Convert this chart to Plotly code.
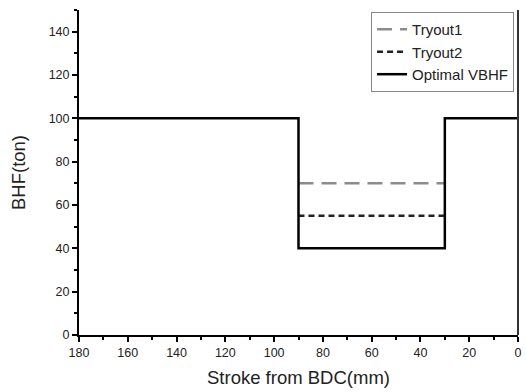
import plotly.graph_objects as go

stroke_tryout = [90, 30]
tryout1 = [70, 70]
tryout2 = [55, 55]
stroke_opt = [180, 90, 90, 30, 30, 0]
optimal = [100, 100, 40, 40, 100, 100]

fig = go.Figure()
fig.add_trace(go.Scatter(x=stroke_tryout, y=tryout1, mode="lines", name="Tryout1",
                         line=dict(color="#8c8c8c", width=2.5, dash="15px,8px")))
fig.add_trace(go.Scatter(x=stroke_tryout, y=tryout2, mode="lines", name="Tryout2",
                         line=dict(color="#222222", width=2.5, dash="6px,4px")))
fig.add_trace(go.Scatter(x=stroke_opt, y=optimal, mode="lines", name="Optimal VBHF",
                         line=dict(color="black", width=2.5)))

axis_common = dict(showgrid=False, zeroline=False, showline=True, linecolor="black",
                   linewidth=2, ticks="outside", ticklen=5, tickwidth=1.5, tickcolor="black",
                   tickfont=dict(family="Arial, Liberation Sans", size=12.5, color="#222"))

fig.update_xaxes(range=[180, 0], dtick=20, tick0=0,
                 minor=dict(ticks="outside", ticklen=3, dtick=10, tickcolor="black", tickwidth=1.5),
                 title=dict(text="Stroke from BDC(mm)", font=dict(family="Arial, Liberation Sans", size=18.5, color="#222"), standoff=12),
                 **axis_common)
fig.update_yaxes(range=[0, 150], dtick=20, tick0=0,
                 minor=dict(ticks="outside", ticklen=3, dtick=10, tickcolor="black", tickwidth=1.5),
                 title=dict(text="BHF(ton)", font=dict(family="Arial, Liberation Sans", size=18.5, color="#222"), standoff=18),
                 **axis_common)

fig.add_shape(type="line", xref="paper", yref="paper", x0=1, x1=1, y0=0, y1=1,
              line=dict(color="#333", width=2))

fig.update_layout(
    width=526, height=392,
    margin=dict(l=79, r=4, t=10, b=57),
    plot_bgcolor="white", paper_bgcolor="white",
    showlegend=True,
    legend=dict(x=0.991, y=0.994, xanchor="right", yanchor="top",
                bordercolor="#888", borderwidth=1, bgcolor="white",
                font=dict(family="Arial, Liberation Sans", size=15, color="#222"),
                tracegroupgap=0, itemwidth=30),
)

fig.write_html("out.html")
